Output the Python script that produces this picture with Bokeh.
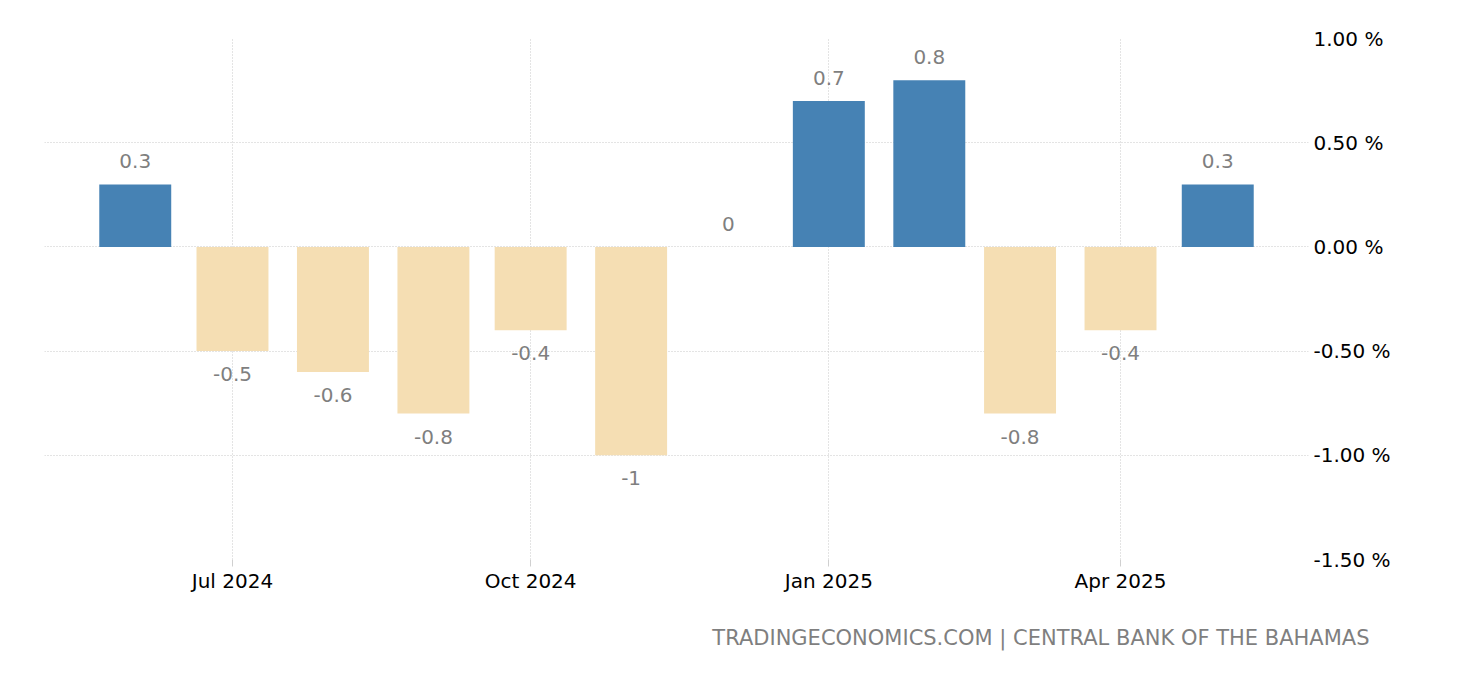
from datetime import datetime

from bokeh.core.properties import value
from bokeh.embed import file_html
from bokeh.models import ColumnDataSource, DatetimeTickFormatter, FixedTicker, LinearAxis, Range1d, Title
from bokeh.plotting import figure
from bokeh.resources import INLINE

months = ["2024-06", "2024-07", "2024-08", "2024-09", "2024-10", "2024-11",
          "2024-12", "2025-01", "2025-02", "2025-03", "2025-04", "2025-05"]
values = [0.3, -0.5, -0.6, -0.8, -0.4, -1.0, 0.0, 0.7, 0.8, -0.8, -0.4, 0.3]
x_ticks = ["2024-07", "2024-10", "2025-01", "2025-04"]
y_ticks = [-1.5, -1.0, -0.5, 0.0, 0.5, 1.0]
y_tick_labels = ["-1.50 %", "-1.00 %", "-0.50 %", "0.00 %", "0.50 %", "1.00 %"]
footer = "TRADINGECONOMICS.COM | CENTRAL BANK OF THE BAHAMAS"

FONT = "DejaVu Sans"
DAY = 24 * 3600 * 1000


def month_start(s):
    return datetime.strptime(s + "-01", "%Y-%m-%d")


dates = [month_start(m) for m in months]
pos = [v for v in values if v >= 0]
src_pos = ColumnDataSource(dict(
    x=[d for d, v in zip(dates, values) if v >= 0],
    top=pos,
    label=[f"{v:g}" for v in pos],
))
neg = [v for v in values if v < 0]
src_neg = ColumnDataSource(dict(
    x=[d for d, v in zip(dates, values) if v < 0],
    top=neg,
    label=[f"{v:g}" for v in neg],
))

p = figure(width=1444, height=680, x_axis_type="datetime",
           x_range=Range1d(datetime(2024, 5, 4), datetime(2025, 5, 29)),
           y_range=Range1d(-1.5, 1.0),
           output_backend="svg", toolbar_location=None, y_axis_location=None,
           min_border_left=44, min_border_right=136, min_border_top=38, min_border_bottom=121)
p.outline_line_color = None
p.background_fill_color = "white"
p.border_fill_color = "white"

bw = 22.2 * DAY
p.vbar(x="x", top="top", bottom=0, width=bw, source=src_pos, fill_color="#4682b4", line_color=None)
p.vbar(x="x", top="top", bottom=0, width=bw, source=src_neg, fill_color="#f5deb3", line_color=None)

p.text(x="x", y="top", text="label", source=src_pos, y_offset=-16,
       text_align="center", text_baseline="bottom", text_color="#7f7f7f",
       text_font=value(FONT), text_font_size="20px")
p.text(x="x", y="top", text="label", source=src_neg, y_offset=16,
       text_align="center", text_baseline="top", text_color="#7f7f7f",
       text_font=value(FONT), text_font_size="20px")

# x axis
xa = p.xaxis[0]
xa.ticker = FixedTicker(ticks=[month_start(m).timestamp() * 1000 for m in x_ticks])
xa.formatter = DatetimeTickFormatter(months="%b %Y", days="%b %Y", hours="%b %Y", years="%b %Y")
xa.axis_line_color = None
xa.major_tick_in = 0
xa.major_tick_out = 7
xa.major_tick_line_color = "#d0d0d0"
xa.minor_tick_line_color = None
xa.major_label_text_font = FONT
xa.major_label_text_font_size = "20px"
xa.major_label_text_color = "#000000"
xa.major_label_standoff = 2

# y axis on the right
ya = LinearAxis(ticker=FixedTicker(ticks=y_ticks),
                major_label_overrides={t: l for t, l in zip(y_ticks, y_tick_labels)})
ya.axis_line_color = None
ya.major_tick_in = 0
ya.major_tick_out = 0
ya.major_tick_line_color = None
ya.minor_tick_line_color = None
ya.major_label_text_font = FONT
ya.major_label_text_font_size = "20px"
ya.major_label_text_color = "#000000"
ya.major_label_standoff = 5
p.add_layout(ya, "right")

p.xgrid.ticker = xa.ticker
p.ygrid.ticker = ya.ticker
for g in (p.xgrid[0], p.ygrid[0]):
    g.grid_line_color = "#c8c8c8"
    g.grid_line_dash = "1 2"
    g.grid_line_width = 1

p.add_layout(Title(text=footer, align="right", offset=-61, standoff=57,
                   text_color="#7f7f7f", text_font=FONT, text_font_size="21px",
                   text_font_style="normal"), "below")

open("out.html", "w").write(file_html(p, INLINE))
